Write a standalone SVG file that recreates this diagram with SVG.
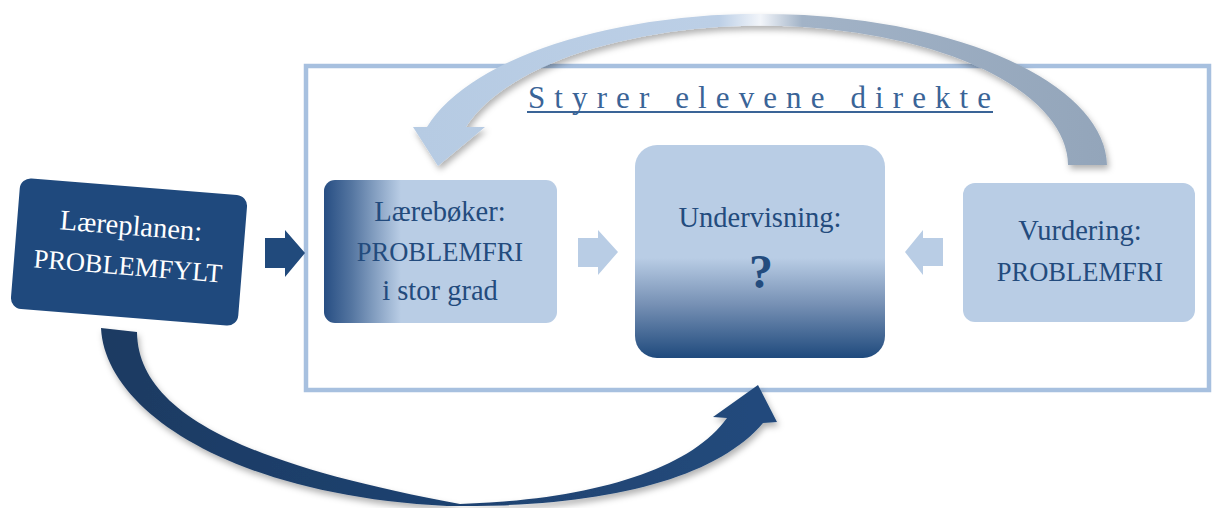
<svg xmlns="http://www.w3.org/2000/svg" width="1213" height="508" viewBox="0 0 1213 508">
<defs>
<style>
.txt{font-family:"Liberation Serif","Times New Roman",serif;text-anchor:middle;fill:#234B7D}
.w{fill:#FFFFFF}
.cap{font-size:26.5px}
.low{font-size:28.5px}
.light{fill:#B9CDE5}
</style>
<linearGradient id="gLaer" x1="0" y1="0" x2="1" y2="0">
<stop offset="0" stop-color="#274E83"/>
<stop offset="0.12" stop-color="#5576A1"/>
<stop offset="0.33" stop-color="#B9CDE5"/>
<stop offset="1" stop-color="#B9CDE5"/>
</linearGradient>
<linearGradient id="gUnd" x1="0" y1="0" x2="0" y2="1">
<stop offset="0" stop-color="#B9CDE5"/>
<stop offset="0.53" stop-color="#B9CDE5"/>
<stop offset="0.75" stop-color="#7690B4"/>
<stop offset="1" stop-color="#1F4A7D"/>
</linearGradient>
<linearGradient id="gTop" gradientUnits="userSpaceOnUse" x1="413" y1="0" x2="1108" y2="0">
<stop offset="0" stop-color="#B6CBE3"/>
<stop offset="0.44" stop-color="#BCCFE6"/>
<stop offset="0.5" stop-color="#F2F5FA"/>
<stop offset="0.56" stop-color="#A2B3C7"/>
<stop offset="1" stop-color="#93A5BA"/>
</linearGradient>
<linearGradient id="gBot" gradientUnits="userSpaceOnUse" x1="100" y1="0" x2="778" y2="0">
<stop offset="0" stop-color="#1C3A62"/>
<stop offset="0.5" stop-color="#1F4270"/>
<stop offset="1" stop-color="#214A7C"/>
</linearGradient>
<filter id="sh" x="-10%" y="-10%" width="120%" height="130%">
<feDropShadow dx="2" dy="4" stdDeviation="3" flood-color="#000000" flood-opacity="0.3"/>
</filter>
</defs>

<g id="frame">
<rect x="306" y="66" width="903" height="324" fill="none" stroke="#A7C0DF" stroke-width="4.5"/>
</g>

<g id="title">
<text x="528" y="108" style="font-family:'Liberation Serif','Times New Roman',serif;font-size:31px;fill:#3A6497;letter-spacing:9.1px">Styrer elevene direkte</text>
<line x1="527" y1="112" x2="993" y2="112" stroke="#3A6497" stroke-width="2"/>
</g>

<g id="connectors">
<path filter="url(#sh)" fill="url(#gTop)" d="M1107,165 A346,153 0 0 0 427,127 L413,127 L438,166 L485,127 L466,127 A307,140 0 0 1 1068,165 Z"/>
<path filter="url(#sh)" fill="url(#gBot)" d="M101,328 C105,410 230,495 447,506 C600,508 715,480 763,423 L777,422 L758,385 L713,417 L727,418 C690,470 590,500 460,504 C250,465 138,415 137,332 Z"/>
<polygon fill="#214A7C" points="265,238 285,238 285,230 305,253 285,277 285,268 265,268"/>
<polygon class="light" points="578,238 598,238 598,230 618,252 598,275 598,267 578,267"/>
<polygon class="light" points="943,238 923,238 923,230 905,252 923,275 923,266 943,266"/>
</g>

<g id="laereplanen" transform="rotate(4.6 129 252)">
<rect x="15" y="186.5" width="228" height="131" rx="11" fill="#1F497D"/>
<text class="txt w low" x="129" y="235">Læreplanen:</text>
<text class="txt w cap" x="129" y="275">PROBLEMFYLT</text>
</g>

<g id="laereboker">
<rect x="324" y="180" width="233" height="143" rx="11" fill="url(#gLaer)"/>
<text class="txt low" x="440" y="221">Lærebøker:</text>
<text class="txt cap" x="440" y="261">PROBLEMFRI</text>
<text class="txt low" x="440" y="300">i stor grad</text>
</g>

<g id="undervisning">
<rect x="635" y="145" width="250" height="213" rx="22" fill="url(#gUnd)"/>
<text class="txt low" x="760" y="227">Undervisning:</text>
<text class="txt" x="761" y="288" style="font-size:48px;font-weight:bold">?</text>
</g>

<g id="vurdering">
<rect x="963" y="183" width="232" height="139" rx="12" class="light"/>
<text class="txt low" x="1080" y="240">Vurdering:</text>
<text class="txt cap" x="1080" y="281">PROBLEMFRI</text>
</g>
</svg>
